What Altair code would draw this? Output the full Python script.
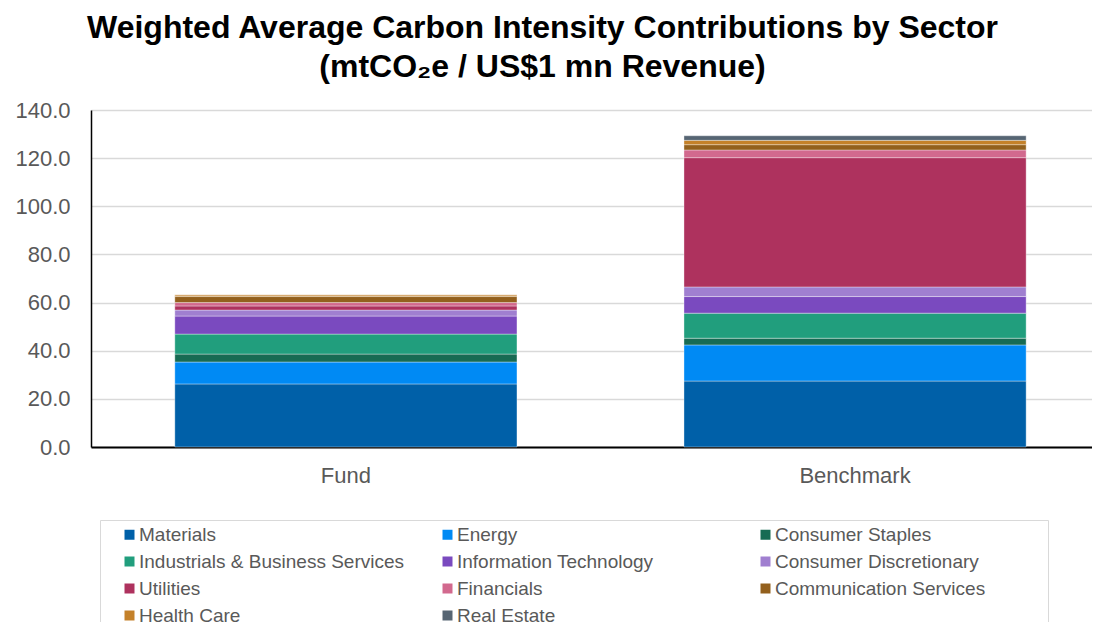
import altair as alt
import pandas as pd

groups = ["Fund", "Benchmark"]
sectors = [
    "Materials", "Energy", "Consumer Staples",
    "Industrials & Business Services", "Information Technology", "Consumer Discretionary",
    "Utilities", "Financials", "Communication Services",
    "Health Care", "Real Estate",
]
fund_vals = [26.2, 9.1, 3.3, 8.3, 7.5, 2.5, 1.7, 1.4, 2.5, 0.7, 0.0]
bench_vals = [27.4, 15.0, 2.8, 10.4, 6.9, 4.0, 53.7, 3.2, 2.2, 1.8, 1.9]
colors = [
    "#0060A8", "#008AF4", "#176B53",
    "#219E7D", "#7A4ABF", "#A07FD0",
    "#AE325E", "#D2698E", "#93601D",
    "#C4812A", "#566573",
]
y_ticks = [0, 20, 40, 60, 80, 100, 120, 140]

rows = []
for g, vals in zip(groups, [fund_vals, bench_vals]):
    for i, (s, v) in enumerate(zip(sectors, vals)):
        rows.append({"Group": g, "Sector": s, "Value": v, "Order": i})
df = pd.DataFrame(rows)

FONT = "Liberation Sans"

chart = (
    alt.Chart(df)
    .mark_bar(stroke="white", strokeWidth=0.6, strokeOpacity=0.6)
    .encode(
        x=alt.X(
            "Group:N",
            sort=groups,
            title=None,
            scale=alt.Scale(paddingInner=0.328, paddingOuter=0.147, align=0.56),
            axis=alt.Axis(
                labelAngle=0, labelFontSize=22, labelFont=FONT, labelColor="#595959",
                labelPadding=18, ticks=False, domainColor="black", domainWidth=2,
            ),
        ),
        y=alt.Y(
            "Value:Q",
            stack="zero",
            title=None,
            scale=alt.Scale(domain=[0, 140], nice=False),
            axis=alt.Axis(
                values=y_ticks, format=".1f", labelFontSize=22, labelFont=FONT,
                labelColor="#595959", labelPadding=21, ticks=False,
                domainColor="black", domainWidth=1.5,
                gridColor="#D9D9D9", gridWidth=1.5,
            ),
        ),
        color=alt.Color(
            "Sector:N",
            sort=sectors,
            scale=alt.Scale(domain=sectors, range=colors),
            legend=alt.Legend(
                title="\u00a0", titleOrient="right", titlePadding=58, titleFontSize=11,
                orient="none", legendX=9, legendY=410,
                direction="horizontal",
                columns=3, gridAlign="all", columnPadding=18, rowPadding=7,
                symbolType="square", symbolSize=100, symbolStrokeWidth=0,
                symbolOffset=15, labelOffset=0,
                labelFontSize=19, labelFont=FONT, labelColor="#595959", labelLimit=500,
                strokeColor="#D9D9D9", padding=5,
            ),
        ),
        order=alt.Order("Order:Q", sort="ascending"),
    )
    .properties(
        width=1001,
        height=337,
        autosize=alt.AutoSizeParams(type="none"),
        padding={"left": 83, "top": 102, "right": 0, "bottom": 175},
        title=alt.TitleParams(
            text=["Weighted Average Carbon Intensity Contributions by Sector",
                  "(mtCO\u2082e / US$1 mn Revenue)"],
            fontSize=32, font=FONT, fontWeight="bold", color="black",
            anchor="middle", dx=-49, offset=15, lineHeight=39,
        ),
    )
    .configure_view(stroke=None)
    .configure_axis(labelFont=FONT)
)

chart.save("out.html", embed_options={"renderer": "svg", "actions": False})
